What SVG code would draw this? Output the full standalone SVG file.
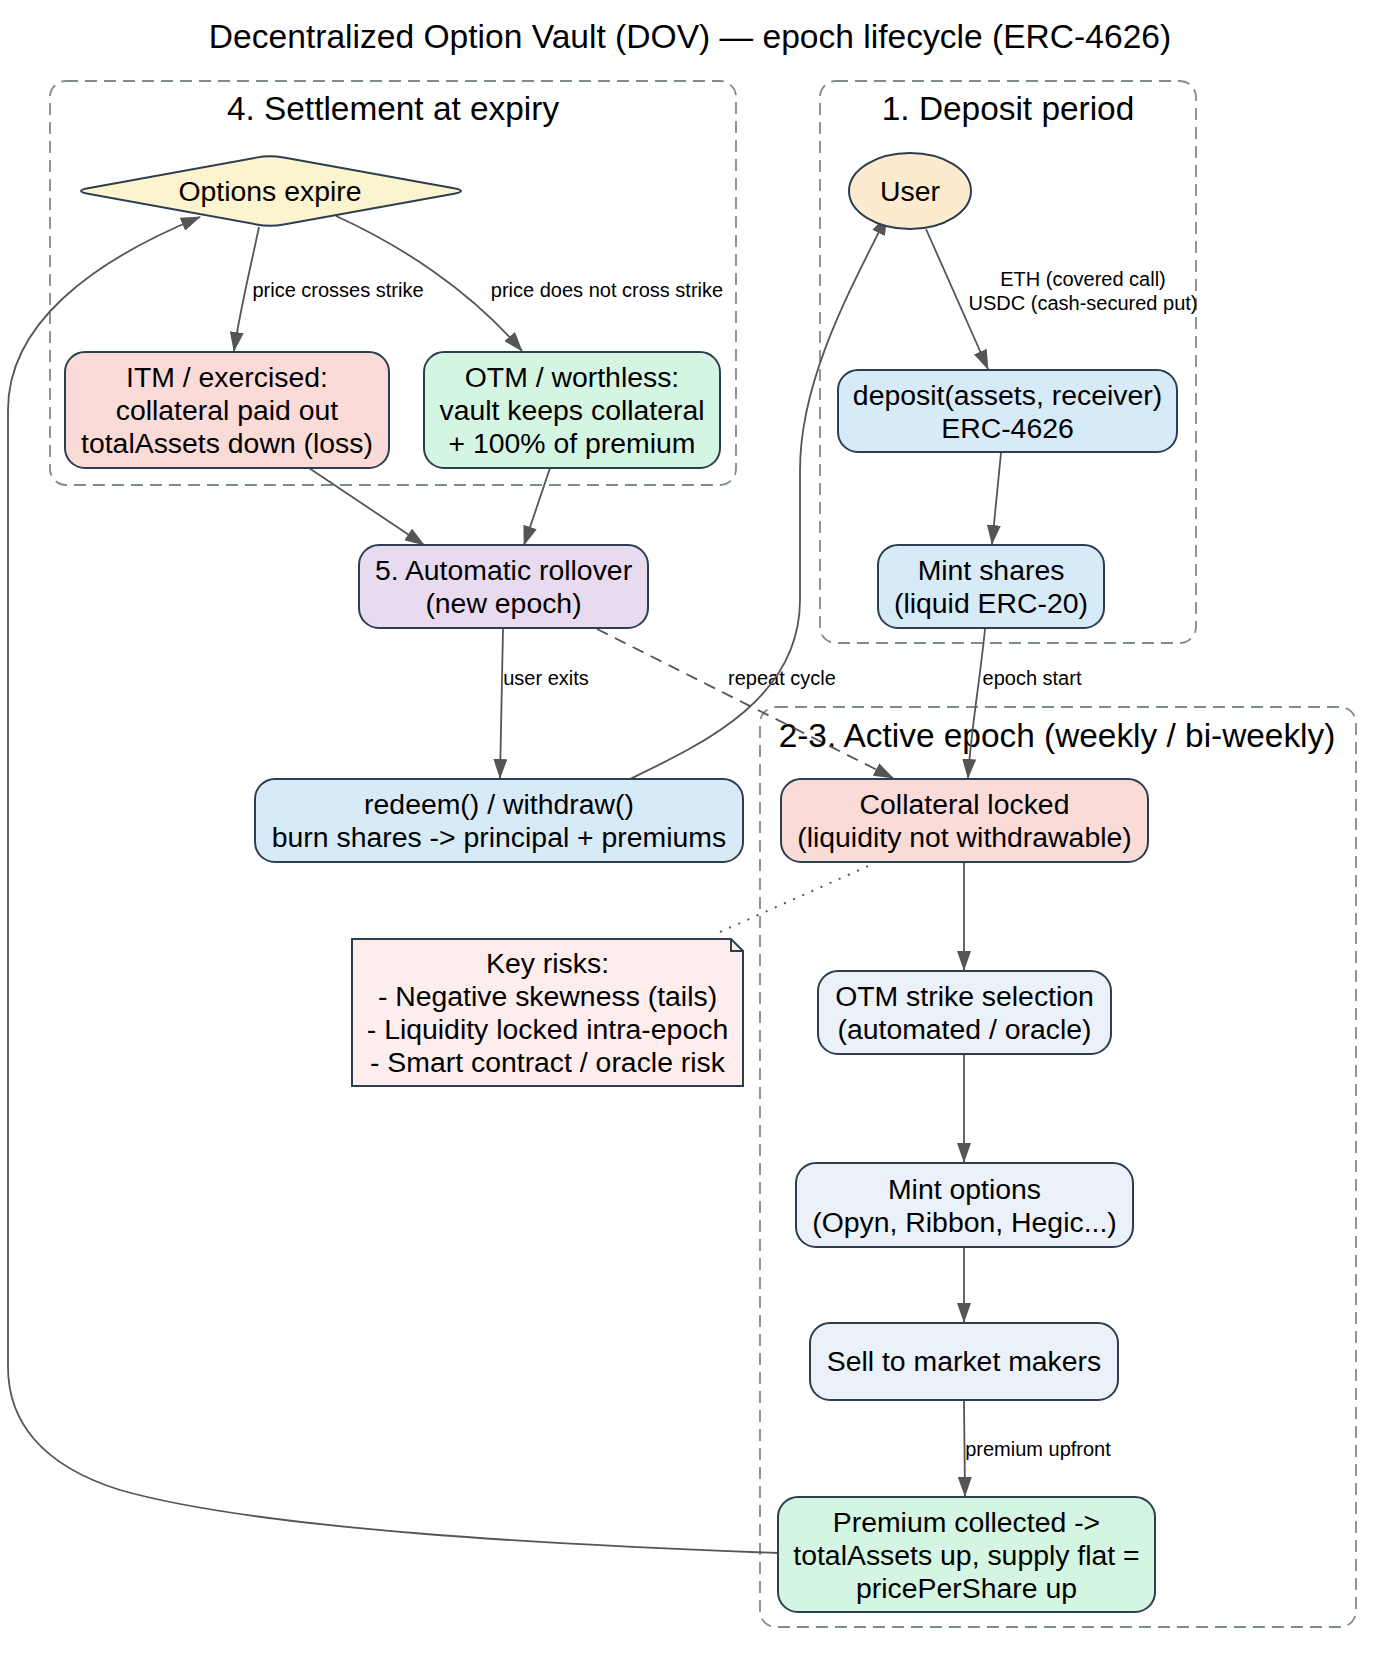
<svg xmlns="http://www.w3.org/2000/svg" width="1381" height="1655" viewBox="0 0 1381 1655">
<style>
text{font-family:"Liberation Sans",Arial,Helvetica,sans-serif;fill:#000;text-anchor:middle}
.title{font-size:33.6px}
.clabel{font-size:33.4px}
.nt{font-size:28.4px}
.el{font-size:20px}
.cluster{fill:none;stroke:#7f8c8d;stroke-width:1.8;stroke-dasharray:12,7}
.node{stroke:#2c3e50;stroke-width:2}
.edge{fill:none;stroke:#555;stroke-width:1.8;marker-end:url(#arr)}
</style>
<defs>
<marker id="arr" viewBox="0 0 20 14" markerWidth="20" markerHeight="14" refX="19" refY="7" orient="auto" markerUnits="userSpaceOnUse">
<path d="M0,0 L20,7 L0,14 z" fill="#555"/>
</marker>
</defs>
<rect width="1381" height="1655" fill="#fff"/>
<text class="title" x="690" y="48">Decentralized Option Vault (DOV) — epoch lifecycle (ERC-4626)</text>

<g id="cluster_settlement">
<rect class="cluster" x="50" y="81" width="686" height="404" rx="16"/>
<text class="clabel" x="393" y="120">4. Settlement at expiry</text>
</g>
<g id="cluster_deposit">
<rect class="cluster" x="820" y="81" width="376" height="562" rx="16"/>
<text class="clabel" x="1008" y="120">1. Deposit period</text>
</g>
<g id="cluster_active">
<rect class="cluster" x="760" y="707" width="596" height="920" rx="16"/>
<text class="clabel" x="1057" y="747">2-3. Active epoch (weekly / bi-weekly)</text>
</g>

<g id="edges">
<path class="edge" d="M926,229 L988,369"/>
<text class="el" x="1083" y="286">ETH (covered call)</text>
<text class="el" x="1083" y="310">USDC (cash-secured put)</text>
<path class="edge" d="M1001,453 L992,544"/>
<path class="edge" d="M985,629 C980,680 971,730 968,778"/>
<text class="el" x="1032" y="685">epoch start</text>
<path class="edge" d="M964,862 L964,970"/>
<path class="edge" d="M964,1055 L964,1162"/>
<path class="edge" d="M964,1248 L964,1322"/>
<path class="edge" d="M964,1401 L965,1496"/>
<text class="el" x="1038" y="1456">premium upfront</text>
<path class="edge" d="M778,1553 C560,1545 260,1530 120,1490 C40,1465 8,1420 8,1367 L8,410 C8,325 90,262 200,217"/>
<path class="edge" d="M259,227 C250,270 240,310 234,351"/>
<text class="el" x="338" y="297">price crosses strike</text>
<path class="edge" d="M336,216 C400,245 470,290 522,351"/>
<text class="el" x="607" y="297">price does not cross strike</text>
<path class="edge" d="M309,468 L424,545"/>
<path class="edge" d="M550,468 L524,545"/>
<path class="edge" d="M503,629 L500,778"/>
<text class="el" x="546" y="685">user exits</text>
<path class="edge" style="stroke-dasharray:12,8" d="M597,629 L893,778"/>
<text class="el" x="782" y="685">repeat cycle</text>
<path class="edge" d="M630,779 C700,745 800,700 800,600 L800,470 C800,380 850,290 887,216"/>
<path d="M720,932 L875,863" fill="none" stroke="#555" stroke-width="2" stroke-dasharray="2,8"/>
</g>

<g id="node_expire">
<path class="node" fill="#fcf3cf" d="M88,188.2 L256.25,157.63 Q270,155 283.75,157.6 L454,188.2 Q468,191 454,193.8 L283.75,224.4 Q270,227 256.25,224.4 L88,193.8 Q74,191 88,188.2 Z"/>
<text class="nt" x="270" y="201">Options expire</text>
</g>
<g id="node_itm">
<rect class="node" fill="#fadbd8" x="65" y="352" width="324" height="116" rx="20"/>
<text class="nt" x="227" y="387">ITM / exercised:</text>
<text class="nt" x="227" y="420">collateral paid out</text>
<text class="nt" x="227" y="453">totalAssets down (loss)</text>
</g>
<g id="node_otm">
<rect class="node" fill="#d5f5e3" x="424" y="352" width="296" height="116" rx="20"/>
<text class="nt" x="572" y="387">OTM / worthless:</text>
<text class="nt" x="572" y="420">vault keeps collateral</text>
<text class="nt" x="572" y="453">+ 100% of premium</text>
</g>
<g id="node_rollover">
<rect class="node" fill="#e8daef" x="359" y="545" width="289" height="83" rx="20"/>
<text class="nt" x="503.5" y="580">5. Automatic rollover</text>
<text class="nt" x="503.5" y="613">(new epoch)</text>
</g>
<g id="node_redeem">
<rect class="node" fill="#d6eaf8" x="255" y="779" width="488" height="83" rx="20"/>
<text class="nt" x="499" y="814">redeem() / withdraw()</text>
<text class="nt" x="499" y="847">burn shares -&gt; principal + premiums</text>
</g>
<g id="node_risks">
<path class="node" fill="#fdedec" d="M352,939 L731,939 L743,951 L743,1086 L352,1086 Z"/>
<path d="M731,939 L731,951 L743,951" fill="none" stroke="#2c3e50" stroke-width="2"/>
<text class="nt" x="547.5" y="973">Key risks:</text>
<text class="nt" x="547.5" y="1006">- Negative skewness (tails)</text>
<text class="nt" x="547.5" y="1039">- Liquidity locked intra-epoch</text>
<text class="nt" x="547.5" y="1072">- Smart contract / oracle risk</text>
</g>
<g id="node_user">
<ellipse class="node" fill="#fdebd0" cx="910" cy="191" rx="61" ry="38"/>
<text class="nt" x="910" y="201">User</text>
</g>
<g id="node_deposit">
<rect class="node" fill="#d6eaf8" x="838" y="370" width="339" height="82" rx="20"/>
<text class="nt" x="1007.5" y="405">deposit(assets, receiver)</text>
<text class="nt" x="1007.5" y="438">ERC-4626</text>
</g>
<g id="node_mintshares">
<rect class="node" fill="#d6eaf8" x="878" y="545" width="226" height="83" rx="20"/>
<text class="nt" x="991" y="580">Mint shares</text>
<text class="nt" x="991" y="613">(liquid ERC-20)</text>
</g>
<g id="node_locked">
<rect class="node" fill="#fadbd8" x="781" y="779" width="367" height="83" rx="20"/>
<text class="nt" x="964.5" y="814">Collateral locked</text>
<text class="nt" x="964.5" y="847">(liquidity not withdrawable)</text>
</g>
<g id="node_strike">
<rect class="node" fill="#eaf1f8" x="818" y="971" width="293" height="83" rx="20"/>
<text class="nt" x="964.5" y="1006">OTM strike selection</text>
<text class="nt" x="964.5" y="1039">(automated / oracle)</text>
</g>
<g id="node_mintoptions">
<rect class="node" fill="#eaf1f8" x="796" y="1163" width="337" height="84" rx="20"/>
<text class="nt" x="964.5" y="1199">Mint options</text>
<text class="nt" x="964.5" y="1232">(Opyn, Ribbon, Hegic...)</text>
</g>
<g id="node_sell">
<rect class="node" fill="#eaf1f8" x="810" y="1323" width="308" height="77" rx="20"/>
<text class="nt" x="964" y="1371">Sell to market makers</text>
</g>
<g id="node_premium">
<rect class="node" fill="#d5f5e3" x="778" y="1497" width="377" height="115" rx="20"/>
<text class="nt" x="966.5" y="1532">Premium collected -&gt;</text>
<text class="nt" x="966.5" y="1565">totalAssets up, supply flat =</text>
<text class="nt" x="966.5" y="1598">pricePerShare up</text>
</g>
</svg>
